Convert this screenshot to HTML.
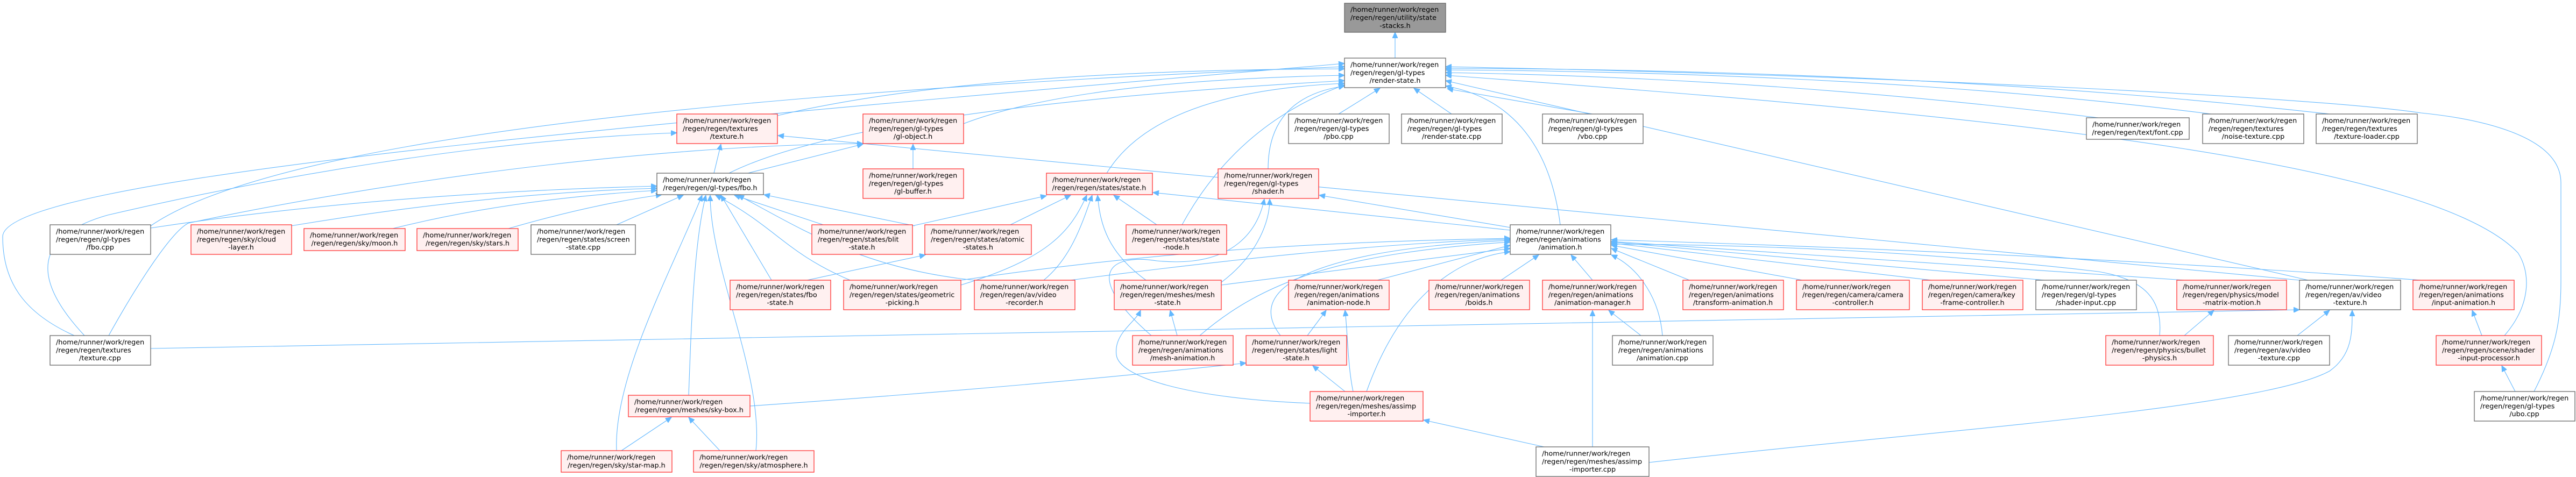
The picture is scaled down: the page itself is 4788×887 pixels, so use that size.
<!DOCTYPE html>
<html><head><meta charset="utf-8"><style>
html,body{margin:0;padding:0;background:#fff;}
svg{display:block;}
text{font-family:"DejaVu Sans","Liberation Sans",sans-serif;font-size:12.8px;fill:#000;}
.w{fill:#fff;stroke:#666;stroke-width:1.3;}
.r{fill:#fff0f0;stroke:#f33;stroke-width:1.3;}
.g{fill:#999;stroke:#666;stroke-width:1.3;}
.e{fill:none;stroke:#63b8ff;stroke-width:1.1;marker-end:url(#a);}
</style></head><body>
<svg width="4788" height="887" viewBox="0 0 4788 887" xmlns="http://www.w3.org/2000/svg">
<defs><marker id="a" markerUnits="userSpaceOnUse" markerWidth="12" markerHeight="10" refX="11" refY="5" orient="auto"><path d="M0,0 L11,5 L0,10 z" fill="#63b8ff" stroke="#63b8ff"/></marker></defs>
<g>
<path class="e" d="M2593,108 L2593,60"/>
<path class="e" d="M2488,212 L2565,164"/>
<path class="e" d="M2698,212 L2628,164"/>
<path class="e" d="M2960,212 L2690,165"/>
<path class="e" d="M1445,215 Q1800,130 2499,128"/>
<path class="e" d="M1791,230 Q2000,150 2499,140"/>
<path class="e" d="M138,624 C40,580 5,520 5,440 C5,330 1200,230 2499,118"/>
<path class="e" d="M280,420 Q600,200 2499,124"/>
<path class="e" d="M1355,322 Q1600,200 2499,150"/>
<path class="e" d="M2057,322 Q2150,170 2499,155"/>
<path class="e" d="M2357,314 Q2357,180 2499,160"/>
<path class="e" d="M2197,418 Q2300,230 2499,158"/>
<path class="e" d="M3900,219 Q3300,145 2687,135"/>
<path class="e" d="M4110,212 Q3500,135 2687,130"/>
<path class="e" d="M4330,212 Q3600,130 2687,127"/>
<path class="e" d="M4710,728 C4750,650 4760,600 4760,520 L4760,340 C4760,250 4600,220 4500,210 C4300,180 3500,140 2687,124"/>
<path class="e" d="M4655,624 C4710,560 4700,500 4680,470 C4500,280 3500,200 2687,140"/>
<path class="e" d="M4290,521 L2687,150"/>
<path class="e" d="M2900,418 C2880,260 2800,180 2687,160"/>
<path class="e" d="M1327,322 L1340,268"/>
<path class="e" d="M157,624 C60,520 60,440 200,400 C500,330 900,260 1258,247"/>
<path class="e" d="M202,624 C260,520 320,430 350,415 C700,340 1200,270 1604,267"/>
<path class="e" d="M4274,521 L1446,252"/>
<path class="e" d="M1390,322 L1604,268"/>
<path class="e" d="M1697,314 L1697,268"/>
<path class="e" d="M280,424 Q700,360 1221,346"/>
<path class="e" d="M541,420 Q900,360 1221,350"/>
<path class="e" d="M730,425 Q950,370 1221,354"/>
<path class="e" d="M945,425 Q1100,380 1230,362"/>
<path class="e" d="M1146,418 L1270,363"/>
<path class="e" d="M1530,418 L1365,363"/>
<path class="e" d="M1700,420 L1420,362"/>
<path class="e" d="M1434,521 L1340,363"/>
<path class="e" d="M1580,521 C1460,470 1440,420 1330,363"/>
<path class="e" d="M1811,521 C1600,500 1480,420 1372,363"/>
<path class="e" d="M1280,735 C1285,600 1290,450 1312,363"/>
<path class="e" d="M1146,838 C1140,700 1250,500 1305,363"/>
<path class="e" d="M1405,838 C1420,700 1320,500 1320,363"/>
<path class="e" d="M1696,420 L1945,364"/>
<path class="e" d="M1878,418 L1990,363"/>
<path class="e" d="M2150,418 L2070,363"/>
<path class="e" d="M2130,521 C2060,470 2045,420 2040,363"/>
<path class="e" d="M1786,530 C1950,480 1990,430 2020,363"/>
<path class="e" d="M1940,521 C1990,480 2010,420 2030,363"/>
<path class="e" d="M2807,428 L2143,358"/>
<path class="e" d="M2807,423 L2452,363"/>
<path class="e" d="M2270,525 C2330,480 2360,420 2360,370"/>
<path class="e" d="M2140,624 C2020,520 2050,470 2150,485 C2300,500 2340,420 2350,370"/>
<path class="e" d="M1500,521 L1720,474"/>
<path class="e" d="M2560,521 L2807,456"/>
<path class="e" d="M2790,521 L2860,474"/>
<path class="e" d="M2960,521 L2920,474"/>
<path class="e" d="M3140,521 L2995,462"/>
<path class="e" d="M3350,521 L2995,456"/>
<path class="e" d="M3590,521 L2995,452"/>
<path class="e" d="M3800,521 L2995,450"/>
<path class="e" d="M4060,521 L2995,449"/>
<path class="e" d="M4500,521 Q3800,470 2995,446"/>
<path class="e" d="M4014,624 C4020,560 3990,520 3900,505 C3600,470 3300,455 2995,454"/>
<path class="e" d="M2230,624 C2350,520 2500,470 2807,450"/>
<path class="e" d="M2380,624 C2300,520 2500,460 2807,447"/>
<path class="e" d="M2540,728 C2600,560 2700,480 2807,468"/>
<path class="e" d="M3090,624 C3085,560 3050,500 2995,474"/>
<path class="e" d="M2270,530 L2807,462"/>
<path class="e" d="M1990,521 C2300,480 2600,450 2807,445"/>
<path class="e" d="M1786,521 C2200,460 2500,450 2807,443"/>
<path class="e" d="M2188,624 L2175,577"/>
<path class="e" d="M2435,750 C2200,740 2080,700 2075,660 C2070,620 2110,600 2120,577"/>
<path class="e" d="M2430,624 L2465,577"/>
<path class="e" d="M2515,728 C2505,680 2505,620 2500,577"/>
<path class="e" d="M2500,728 L2440,680"/>
<path class="e" d="M1394,755 Q1900,720 2316,675"/>
<path class="e" d="M3050,624 L2990,577"/>
<path class="e" d="M2960,831 L2960,577"/>
<path class="e" d="M2870,831 L2646,781"/>
<path class="e" d="M4270,624 L4330,577"/>
<path class="e" d="M3065,860 C3600,800 4200,760 4330,690 C4372,660 4372,620 4372,577"/>
<path class="e" d="M280,648 L4274,576"/>
<path class="e" d="M4060,624 L4115,577"/>
<path class="e" d="M4613,624 L4595,577"/>
<path class="e" d="M4675,728 L4650,680"/>
<path class="e" d="M1155,838 L1248,776"/>
<path class="e" d="M1338,838 L1280,776"/>
</g>
<g>
<rect class="g" x="2499" y="6" width="188" height="54"/><text x="2510" y="22">/home/runner/work/regen</text><text x="2510" y="37">/regen/regen/utility/state</text><text x="2593" y="52" text-anchor="middle">-stacks.h</text>
<rect class="w" x="2499" y="108" width="188" height="55"/><text x="2510" y="124.5">/home/runner/work/regen</text><text x="2510" y="139.3">/regen/regen/gl-types</text><text x="2593" y="154.1" text-anchor="middle">/render-state.h</text>

<rect class="r" x="1258" y="212" width="187" height="55"/><text x="1269" y="228.5">/home/runner/work/regen</text><text x="1269" y="243.3">/regen/regen/textures</text><text x="1351" y="258.1" text-anchor="middle">/texture.h</text>
<rect class="r" x="1604" y="212" width="187" height="55"/><text x="1615" y="228.5">/home/runner/work/regen</text><text x="1615" y="243.3">/regen/regen/gl-types</text><text x="1697" y="258.1" text-anchor="middle">/gl-object.h</text>
<rect class="w" x="2395" y="212" width="187" height="55"/><text x="2406" y="228.5">/home/runner/work/regen</text><text x="2406" y="243.3">/regen/regen/gl-types</text><text x="2488" y="258.1" text-anchor="middle">/pbo.cpp</text>
<rect class="w" x="2605" y="212" width="187" height="55"/><text x="2616" y="228.5">/home/runner/work/regen</text><text x="2616" y="243.3">/regen/regen/gl-types</text><text x="2698" y="258.1" text-anchor="middle">/render-state.cpp</text>
<rect class="w" x="2867" y="212" width="187" height="55"/><text x="2878" y="228.5">/home/runner/work/regen</text><text x="2878" y="243.3">/regen/regen/gl-types</text><text x="2960" y="258.1" text-anchor="middle">/vbo.cpp</text>
<rect class="w" x="3878" y="219" width="191" height="40"/><text x="3889" y="235.5">/home/runner/work/regen</text><text x="3973" y="250.3" text-anchor="middle">/regen/regen/text/font.cpp</text>
<rect class="w" x="4094" y="212" width="188" height="55"/><text x="4105" y="228.5">/home/runner/work/regen</text><text x="4105" y="243.3">/regen/regen/textures</text><text x="4188" y="258.1" text-anchor="middle">/noise-texture.cpp</text>
<rect class="w" x="4305" y="212" width="188" height="55"/><text x="4316" y="228.5">/home/runner/work/regen</text><text x="4316" y="243.3">/regen/regen/textures</text><text x="4399" y="258.1" text-anchor="middle">/texture-loader.cpp</text>

<rect class="w" x="1221" y="322" width="198" height="40"/><text x="1232" y="338.5">/home/runner/work/regen</text><text x="1320" y="353.3" text-anchor="middle">/regen/regen/gl-types/fbo.h</text>
<rect class="r" x="1604" y="314" width="187" height="55"/><text x="1615" y="330.5">/home/runner/work/regen</text><text x="1615" y="345.3">/regen/regen/gl-types</text><text x="1697" y="360.1" text-anchor="middle">/gl-buffer.h</text>
<rect class="r" x="1945" y="322" width="197" height="40"/><text x="1956" y="338.5">/home/runner/work/regen</text><text x="2043" y="353.3" text-anchor="middle">/regen/regen/states/state.h</text>
<rect class="r" x="2264" y="314" width="187" height="55"/><text x="2275" y="330.5">/home/runner/work/regen</text><text x="2275" y="345.3">/regen/regen/gl-types</text><text x="2357" y="360.1" text-anchor="middle">/shader.h</text>

<rect class="w" x="93" y="418" width="187" height="55"/><text x="104" y="434.5">/home/runner/work/regen</text><text x="104" y="449.3">/regen/regen/gl-types</text><text x="186" y="464.1" text-anchor="middle">/fbo.cpp</text>
<rect class="r" x="355" y="418" width="187" height="55"/><text x="366" y="434.5">/home/runner/work/regen</text><text x="366" y="449.3">/regen/regen/sky/cloud</text><text x="448" y="464.1" text-anchor="middle">-layer.h</text>
<rect class="r" x="565" y="425" width="188" height="41"/><text x="576" y="441.5">/home/runner/work/regen</text><text x="659" y="456.3" text-anchor="middle">/regen/regen/sky/moon.h</text>
<rect class="r" x="775" y="425" width="188" height="41"/><text x="786" y="441.5">/home/runner/work/regen</text><text x="869" y="456.3" text-anchor="middle">/regen/regen/sky/stars.h</text>
<rect class="w" x="987" y="418" width="194" height="55"/><text x="998" y="434.5">/home/runner/work/regen</text><text x="998" y="449.3">/regen/regen/states/screen</text><text x="1084" y="464.1" text-anchor="middle">-state.cpp</text>
<rect class="r" x="1509" y="418" width="187" height="55"/><text x="1520" y="434.5">/home/runner/work/regen</text><text x="1520" y="449.3">/regen/regen/states/blit</text><text x="1602" y="464.1" text-anchor="middle">-state.h</text>
<rect class="r" x="1719" y="418" width="198" height="55"/><text x="1730" y="434.5">/home/runner/work/regen</text><text x="1730" y="449.3">/regen/regen/states/atomic</text><text x="1818" y="464.1" text-anchor="middle">-states.h</text>
<rect class="r" x="2093" y="418" width="187" height="55"/><text x="2104" y="434.5">/home/runner/work/regen</text><text x="2104" y="449.3">/regen/regen/states/state</text><text x="2186" y="464.1" text-anchor="middle">-node.h</text>
<rect class="w" x="2807" y="418" width="187" height="55"/><text x="2818" y="434.5">/home/runner/work/regen</text><text x="2818" y="449.3">/regen/regen/animations</text><text x="2900" y="464.1" text-anchor="middle">/animation.h</text>

<rect class="r" x="1357" y="521" width="187" height="55"/><text x="1368" y="537.5">/home/runner/work/regen</text><text x="1368" y="552.3">/regen/regen/states/fbo</text><text x="1450" y="567.1" text-anchor="middle">-state.h</text>
<rect class="r" x="1568" y="521" width="218" height="55"/><text x="1579" y="537.5">/home/runner/work/regen</text><text x="1579" y="552.3">/regen/regen/states/geometric</text><text x="1677" y="567.1" text-anchor="middle">-picking.h</text>
<rect class="r" x="1811" y="521" width="187" height="55"/><text x="1822" y="537.5">/home/runner/work/regen</text><text x="1822" y="552.3">/regen/regen/av/video</text><text x="1904" y="567.1" text-anchor="middle">-recorder.h</text>
<rect class="r" x="2071" y="521" width="199" height="55"/><text x="2082" y="537.5">/home/runner/work/regen</text><text x="2082" y="552.3">/regen/regen/meshes/mesh</text><text x="2170" y="567.1" text-anchor="middle">-state.h</text>
<rect class="r" x="2395" y="521" width="187" height="55"/><text x="2406" y="537.5">/home/runner/work/regen</text><text x="2406" y="552.3">/regen/regen/animations</text><text x="2488" y="567.1" text-anchor="middle">/animation-node.h</text>
<rect class="r" x="2656" y="521" width="187" height="55"/><text x="2667" y="537.5">/home/runner/work/regen</text><text x="2667" y="552.3">/regen/regen/animations</text><text x="2749" y="567.1" text-anchor="middle">/boids.h</text>
<rect class="r" x="2867" y="521" width="187" height="55"/><text x="2878" y="537.5">/home/runner/work/regen</text><text x="2878" y="552.3">/regen/regen/animations</text><text x="2960" y="567.1" text-anchor="middle">/animation-manager.h</text>
<rect class="r" x="3128" y="521" width="187" height="55"/><text x="3139" y="537.5">/home/runner/work/regen</text><text x="3139" y="552.3">/regen/regen/animations</text><text x="3221" y="567.1" text-anchor="middle">/transform-animation.h</text>
<rect class="r" x="3339" y="521" width="210" height="55"/><text x="3350" y="537.5">/home/runner/work/regen</text><text x="3350" y="552.3">/regen/regen/camera/camera</text><text x="3444" y="567.1" text-anchor="middle">-controller.h</text>
<rect class="r" x="3573" y="521" width="187" height="55"/><text x="3584" y="537.5">/home/runner/work/regen</text><text x="3584" y="552.3">/regen/regen/camera/key</text><text x="3666" y="567.1" text-anchor="middle">-frame-controller.h</text>
<rect class="w" x="3784" y="521" width="187" height="55"/><text x="3795" y="537.5">/home/runner/work/regen</text><text x="3795" y="552.3">/regen/regen/gl-types</text><text x="3877" y="567.1" text-anchor="middle">/shader-input.cpp</text>
<rect class="r" x="4046" y="521" width="204" height="55"/><text x="4057" y="537.5">/home/runner/work/regen</text><text x="4057" y="552.3">/regen/regen/physics/model</text><text x="4148" y="567.1" text-anchor="middle">-matrix-motion.h</text>
<rect class="w" x="4274" y="521" width="188" height="55"/><text x="4285" y="537.5">/home/runner/work/regen</text><text x="4285" y="552.3">/regen/regen/av/video</text><text x="4368" y="567.1" text-anchor="middle">-texture.h</text>
<rect class="r" x="4485" y="521" width="188" height="55"/><text x="4496" y="537.5">/home/runner/work/regen</text><text x="4496" y="552.3">/regen/regen/animations</text><text x="4579" y="567.1" text-anchor="middle">/input-animation.h</text>

<rect class="w" x="93" y="624" width="187" height="55"/><text x="104" y="640.5">/home/runner/work/regen</text><text x="104" y="655.3">/regen/regen/textures</text><text x="186" y="670.1" text-anchor="middle">/texture.cpp</text>
<rect class="r" x="2105" y="624" width="187" height="55"/><text x="2116" y="640.5">/home/runner/work/regen</text><text x="2116" y="655.3">/regen/regen/animations</text><text x="2198" y="670.1" text-anchor="middle">/mesh-animation.h</text>
<rect class="r" x="2316" y="624" width="187" height="55"/><text x="2327" y="640.5">/home/runner/work/regen</text><text x="2327" y="655.3">/regen/regen/states/light</text><text x="2409" y="670.1" text-anchor="middle">-state.h</text>
<rect class="w" x="2997" y="624" width="187" height="55"/><text x="3008" y="640.5">/home/runner/work/regen</text><text x="3008" y="655.3">/regen/regen/animations</text><text x="3090" y="670.1" text-anchor="middle">/animation.cpp</text>
<rect class="r" x="3914" y="624" width="200" height="55"/><text x="3925" y="640.5">/home/runner/work/regen</text><text x="3925" y="655.3">/regen/regen/physics/bullet</text><text x="4014" y="670.1" text-anchor="middle">-physics.h</text>
<rect class="w" x="4142" y="624" width="188" height="55"/><text x="4153" y="640.5">/home/runner/work/regen</text><text x="4153" y="655.3">/regen/regen/av/video</text><text x="4236" y="670.1" text-anchor="middle">-texture.cpp</text>
<rect class="r" x="4528" y="624" width="196" height="55"/><text x="4539" y="640.5">/home/runner/work/regen</text><text x="4539" y="655.3">/regen/regen/scene/shader</text><text x="4626" y="670.1" text-anchor="middle">-input-processor.h</text>

<rect class="r" x="1168" y="735" width="226" height="40"/><text x="1179" y="751.5">/home/runner/work/regen</text><text x="1281" y="766.3" text-anchor="middle">/regen/regen/meshes/sky-box.h</text>
<rect class="r" x="2435" y="728" width="210" height="55"/><text x="2446" y="744.5">/home/runner/work/regen</text><text x="2446" y="759.3">/regen/regen/meshes/assimp</text><text x="2540" y="774.1" text-anchor="middle">-importer.h</text>
<rect class="w" x="4599" y="728" width="187" height="55"/><text x="4610" y="744.5">/home/runner/work/regen</text><text x="4610" y="759.3">/regen/regen/gl-types</text><text x="4692" y="774.1" text-anchor="middle">/ubo.cpp</text>
<rect class="w" x="2855" y="831" width="210" height="55"/><text x="2866" y="847.5">/home/runner/work/regen</text><text x="2866" y="862.3">/regen/regen/meshes/assimp</text><text x="2960" y="877.1" text-anchor="middle">-importer.cpp</text>
<rect class="r" x="1043" y="838" width="206" height="40"/><text x="1054" y="854.5">/home/runner/work/regen</text><text x="1146" y="869.3" text-anchor="middle">/regen/regen/sky/star-map.h</text>
<rect class="r" x="1289" y="838" width="224" height="40"/><text x="1300" y="854.5">/home/runner/work/regen</text><text x="1401" y="869.3" text-anchor="middle">/regen/regen/sky/atmosphere.h</text>
</g>
</svg>
</body></html>
